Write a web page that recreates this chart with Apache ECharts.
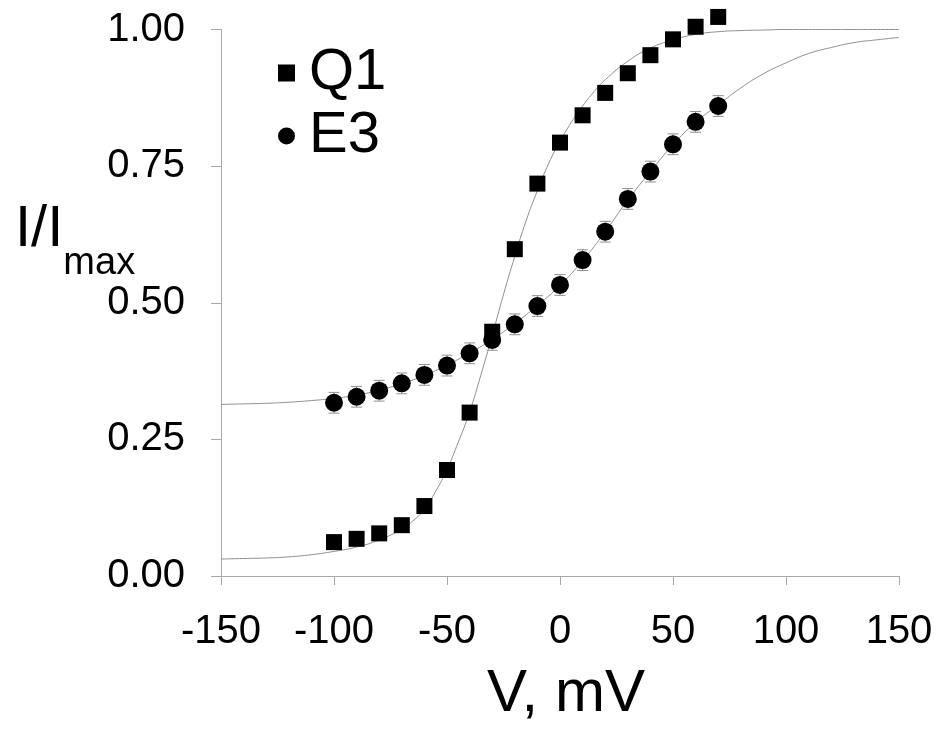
<!DOCTYPE html>
<html>
<head>
<meta charset="utf-8">
<script src="https://cdn.jsdelivr.net/npm/echarts@6/dist/echarts.min.js"></script>
<style>html,body{margin:0;padding:0;background:#fff;}#c{width:942px;height:729px;}</style>
</head>
<body>
<div id="c"></div>
<script>
// Measured points (V in mV)
const voltages = [-100,-90,-80,-70,-60,-50,-40,-30,-20,-10,0,10,20,30,40,50,60,70];
const q1Values = [0.062,0.068,0.078,0.093,0.128,0.194,0.299,0.447,0.598,0.718,0.793,0.843,0.884,0.920,0.953,0.982,1.005,1.023];
const e3Values = [0.317,0.328,0.339,0.3525,0.368,0.385,0.4075,0.432,0.4605,0.494,0.5325,0.578,0.630,0.690,0.740,0.790,0.831,0.860];
const e3Errors = [0.019,0.019,0.019,0.019,0.019,0.019,0.019,0.019,0.019,0.019,0.019,0.019,0.019,0.019,0.019,0.019,0.019,0.019];

// Fitted curves
const q1FitV = [-150,-140,-130,-120,-110,-100,-90,-80,-70,-65,-60,-55,-50,-45,-40,-35,-30,-25,-20,-15,-10,-5,0,5,10,15,20,30,40,50,60,70,80,90,100,110,120,130,140,150];
const q1FitY = [0.031,0.032,0.033,0.035,0.039,0.045,0.053,0.066,0.086,0.101,0.122,0.155,0.195,0.245,0.300,0.368,0.440,0.515,0.585,0.650,0.705,0.755,0.795,0.830,0.860,0.886,0.908,0.942,0.966,0.981,0.991,0.996,0.998,0.999,1.0,1.0,1.0,1.0,1.0,1.0];
const e3FitV = [-150,-140,-130,-120,-110,-100,-90,-80,-70,-60,-50,-40,-30,-20,-10,0,10,20,30,40,50,60,70,80,90,100,110,120,130,140,150];
const e3FitY = [0.314,0.315,0.316,0.318,0.321,0.325,0.331,0.340,0.352,0.367,0.386,0.408,0.433,0.462,0.495,0.532,0.577,0.630,0.688,0.740,0.789,0.830,0.862,0.893,0.919,0.939,0.956,0.967,0.976,0.981,0.9855];

const xTicks = [-150,-100,-50,0,50,100,150];
const yTicks = [0,0.25,0.5,0.75,1.0];

const zip = (a, b) => a.map((v, i) => [v, b[i]]);
const FONT = "'Liberation Sans', Arial, Helvetica, sans-serif";
const AXIS_GRAY = '#a8a8a8';
const FIT_GRAY = '#909090';

const chart = echarts.init(document.getElementById('c'), null, {renderer: 'canvas'});
chart.setOption({
  backgroundColor: '#ffffff',
  animation: false,
  textStyle: {fontFamily: FONT},
  grid: {left: 221, right: 43, top: 29.5, bottom: 153},
  legend: {
    orient: 'vertical',
    left: 278,
    top: 44,
    padding: 0,
    itemGap: 5,
    itemWidth: 17,
    itemHeight: 17,
    data: [
      {name: 'Q1', icon: 'rect', itemStyle: {color: '#000', opacity: 1}},
      {name: 'E3', icon: 'circle', itemStyle: {color: '#000', opacity: 1}}
    ],
    textStyle: {fontFamily: FONT, fontSize: 58, lineHeight: 58, color: '#000', padding: [0, 0, 0, 9]}
  },
  xAxis: {
    type: 'value',
    min: xTicks[0],
    max: xTicks[xTicks.length - 1],
    interval: 50,
    name: 'V, mV',
    nameLocation: 'middle',
    nameGap: 88,
    nameTextStyle: {fontFamily: FONT, fontSize: 60, color: '#000', padding: [0, 0, 0, 12]},
    axisLine: {show: true, onZero: false, lineStyle: {color: AXIS_GRAY, width: 1}},
    axisTick: {show: true, length: 9, lineStyle: {color: AXIS_GRAY, width: 1}},
    axisLabel: {fontFamily: FONT, fontSize: 40, color: '#000', margin: 36},
    splitLine: {show: false}
  },
  yAxis: {
    type: 'value',
    min: yTicks[0],
    max: yTicks[yTicks.length - 1],
    interval: 0.25,
    axisLine: {show: true, onZero: false, lineStyle: {color: AXIS_GRAY, width: 1}},
    axisTick: {show: true, length: 10, lineStyle: {color: AXIS_GRAY, width: 1}},
    axisLabel: {fontFamily: FONT, fontSize: 40, color: '#000', margin: 36, formatter: v => v.toFixed(2)},
    splitLine: {show: false}
  },
  graphic: [{
    type: 'text',
    left: 15,
    top: 201,
    style: {
      text: '{a|I/I}{b|max}',
      rich: {
        a: {fontFamily: FONT, fontSize: 58, lineHeight: 58, verticalAlign: 'top', fill: '#000'},
        b: {fontFamily: FONT, fontSize: 38, lineHeight: 38, verticalAlign: 'top', padding: [44, 0, 0, 0], fill: '#000'}
      }
    }
  }],
  series: [
    {
      name: 'Q1 fit', type: 'line', data: zip(q1FitV, q1FitY),
      showSymbol: false, smooth: 0.5, clip: false,
      lineStyle: {color: FIT_GRAY, width: 1}, z: 1, silent: true
    },
    {
      name: 'E3 fit', type: 'line', data: zip(e3FitV, e3FitY),
      showSymbol: false, smooth: 0.5, clip: false,
      lineStyle: {color: FIT_GRAY, width: 1}, z: 1, silent: true
    },
    {
      name: 'E3 error', type: 'custom', z: 2, silent: true, clip: false,
      data: voltages.map((v, i) => [v, e3Values[i], e3Errors[i]]),
      renderItem: function (params, api) {
        const x = api.value(0), y = api.value(1), e = api.value(2);
        const top = api.coord([x, y + e]);
        const bot = api.coord([x, y - e]);
        const hw = 5.5;
        const st = {stroke: FIT_GRAY, lineWidth: 1};
        return {type: 'group', children: [
          {type: 'line', shape: {x1: top[0], y1: top[1], x2: bot[0], y2: bot[1]}, style: st},
          {type: 'line', shape: {x1: top[0] - hw, y1: top[1], x2: top[0] + hw, y2: top[1]}, style: st},
          {type: 'line', shape: {x1: bot[0] - hw, y1: bot[1], x2: bot[0] + hw, y2: bot[1]}, style: st}
        ]};
      }
    },
    {
      name: 'Q1', type: 'scatter', data: zip(voltages, q1Values), clip: false,
      symbol: 'rect', symbolSize: 16, itemStyle: {color: '#000', opacity: 1}, z: 3
    },
    {
      name: 'E3', type: 'scatter', data: zip(voltages, e3Values), clip: false,
      symbol: 'circle', symbolSize: 18, itemStyle: {color: '#000', opacity: 1}, z: 3
    }
  ]
});
</script>
</body>
</html>
